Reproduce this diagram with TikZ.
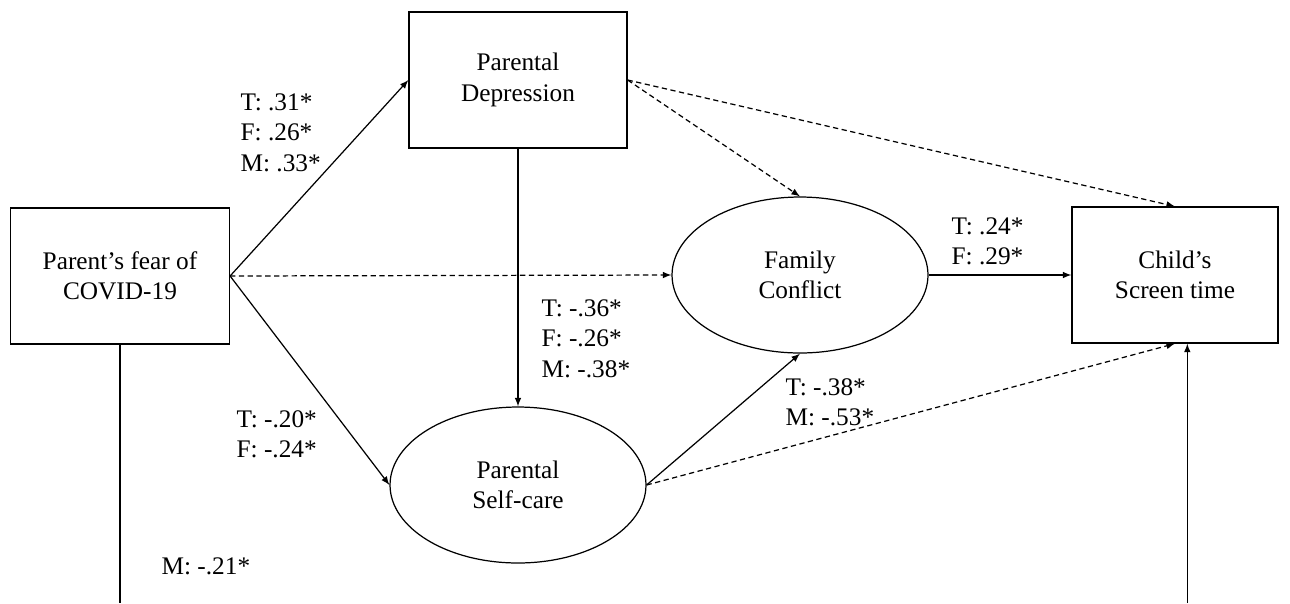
\documentclass[tikz,border=0pt]{standalone}
\usepackage{fontspec}
\setmainfont{Liberation Serif}
\usetikzlibrary{shapes.geometric}
\begin{document}
\begin{tikzpicture}[
x=0.02cm, y=-0.02cm,
font=\fontsize{14.4}{17.3}\selectfont,
line width=0.7pt,
box/.style={
draw,
align=center,
minimum height=2.72cm,
inner sep=0pt
},
oval/.style={
draw,
ellipse,
align=center,
minimum width=5.12cm,
minimum height=3.12cm,
inner sep=0pt
},
coef/.style={align=left, anchor=north west, inner sep=0pt},
indirect/.style={-latex, dash pattern=on 3pt off 2pt}
]

\useasboundingbox (0,0) rectangle (1290,603);

\node[box, minimum width=4.38cm] (fear) at (120,276)
{Parent’s fear of\\COVID-19};

\node[box, minimum width=4.36cm] (dep) at (518,80)
{Parental\\Depression};

\node[oval] (conf) at (800,275)
{Family\\Conflict};

\node[oval] (care) at (518,485)
{Parental\\Self-care};

\node[box, minimum width=4.12cm] (child) at (1175,275)
{Child’s\\Screen time};

\coordinate (bottom) at (0,603);

\draw[-latex] (fear.east) -- (dep.west);
\draw[-latex] (fear.east) -- (care.west);
\draw[indirect] (fear.east) -- (conf.west);
\draw[-latex] (dep.south) -- (care.north);
\draw[indirect] (dep.east) -- (conf.north);
\draw[indirect] (dep.east) -- (child.north);
\draw[-latex] (conf.east) -- (child.west);
\draw[-latex] (care.east) -- (conf.south);
\draw[indirect] (care.east) -- (child.south);
\draw (fear.south) -- (fear.south |- bottom);
\draw[-latex] ([xshift=7]child.south |- bottom) -- ([xshift=7]child.south);

\node[coef] (lA) at (240,93) {T: .31*\\F: .26*\\M: .33*};
\node[coef] (lB) at (541,299) {T: -.36*\\F: -.26*\\M: -.38*};
\node[coef] (lC) at (236,410) {T: -.20*\\F: -.24*};
\node[coef] (lD) at (161,557) {M: -.21*};
\node[coef] (lE) at (951,217) {T: .24*\\F: .29*};
\node[coef] (lF) at (785,378) {T: -.38*\\M: -.53*};

\end{tikzpicture}
\end{document}
